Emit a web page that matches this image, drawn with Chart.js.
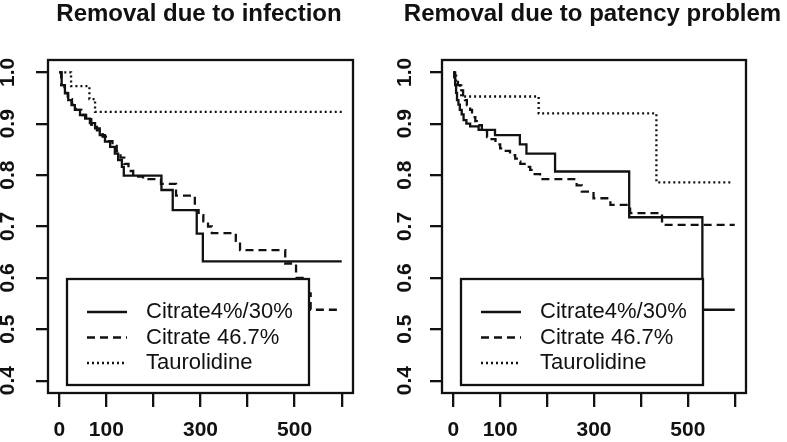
<!DOCTYPE html>
<html>
<head>
<meta charset="utf-8">
<script src="https://cdn.jsdelivr.net/npm/chart.js@4.4.0/dist/chart.umd.min.js"></script>
<style>
  html, body { margin: 0; padding: 0; background: #fff; }
  #wrap { position: relative; width: 787px; height: 442px; overflow: hidden; background: #fff; }
  .panel { position: absolute; top: 0; }
  #left { left: 0; }
  #right { left: 397px; }
</style>
</head>
<body>
<div id="wrap">
  <div class="panel" id="left"><canvas id="infection-chart" width="398" height="442"></canvas></div>
  <div class="panel" id="right"><canvas id="patency-chart" width="390" height="442"></canvas></div>
</div>
<script>
// groups and axis ticks
const groups = ["Citrate4%/30%", "Citrate 46.7%", "Taurolidine"];
const xTicks = [0, 100, 200, 300, 400, 500, 600];
const xTickLabels = ["0", "100", "", "300", "", "500", ""];
const yTicks = [0.4, 0.5, 0.6, 0.7, 0.8, 0.9, 1.0];

// removal due to infection (days, survival)
const infLowTime = [0, 5, 12, 19, 26, 33, 44, 55, 65, 76, 86, 97, 108, 118, 125, 133, 137, 217, 241, 292, 305, 600];
const infLowSurv = [1, 0.975, 0.959, 0.946, 0.936, 0.927, 0.917, 0.910, 0.901, 0.891, 0.878, 0.865, 0.855, 0.842, 0.829, 0.816, 0.799, 0.771, 0.732, 0.686, 0.632, 0.632];
const infHighTime = [0, 4, 11, 18, 27, 35, 47, 57, 68, 80, 92, 103, 113, 122, 130, 138, 147, 157, 178, 216, 248, 288, 296, 306, 316, 324, 375, 384, 480, 503, 520, 534, 600];
const infHighSurv = [1, 0.975, 0.960, 0.948, 0.937, 0.927, 0.917, 0.909, 0.898, 0.887, 0.875, 0.866, 0.857, 0.846, 0.834, 0.822, 0.808, 0.797, 0.792, 0.783, 0.760, 0.732, 0.722, 0.710, 0.700, 0.687, 0.672, 0.654, 0.628, 0.600, 0.570, 0.538, 0.538];
const infTauroTime = [0, 25, 64, 76, 600];
const infTauroSurv = [1, 0.973, 0.948, 0.923, 0.923];

// removal due to patency problem
const patLowTime = [0, 2, 4, 6, 8, 11, 14, 18, 22, 28, 36, 54, 89, 142, 156, 217, 375, 531, 600];
const patLowSurv = [1, 0.99, 0.975, 0.96, 0.946, 0.937, 0.927, 0.918, 0.907, 0.900, 0.895, 0.888, 0.878, 0.860, 0.842, 0.807, 0.718, 0.538, 0.538];
const patHighTime = [0, 4, 10, 14, 21, 25, 29, 36, 40, 47, 50, 61, 72, 79, 90, 100, 108, 121, 132, 139, 143, 157, 164, 171, 185, 263, 274, 299, 335, 377, 445, 600];
const patHighSurv = [1, 0.988, 0.975, 0.965, 0.952, 0.946, 0.936, 0.927, 0.913, 0.905, 0.897, 0.886, 0.874, 0.870, 0.860, 0.852, 0.847, 0.839, 0.832, 0.826, 0.822, 0.816, 0.810, 0.802, 0.792, 0.780, 0.768, 0.755, 0.742, 0.726, 0.703, 0.703];
const patTauroTime = [0, 6, 17, 182, 433, 594];
const patTauroSurv = [1, 0.977, 0.953, 0.920, 0.786, 0.786];

const fontFamily = '"Liberation Sans", Arial, Helvetica, sans-serif';
const ink = "#111";
const dashes = [[], [8, 5], [2, 3]];
const lw = 2.3;

Chart.defaults.font.family = fontFamily;
Chart.defaults.color = ink;

function toPoints(times, surv) {
    return times.map((t, i) => ({ x: t, y: surv[i] }));
}

// title, frame around the plot region and the R-style legend inside it
const boxLegend = {
    id: "boxLegend",
    afterDatasetsDraw(chart, args, opts) {
        const ctx = chart.ctx;
        const a = chart.chartArea;
        ctx.save();
        ctx.fillStyle = ink;
        ctx.font = "bold 24px " + fontFamily;
        ctx.textAlign = "center";
        ctx.textBaseline = "middle";
        ctx.fillText(opts.title, (a.left + a.right) / 2 - 1.5, 14);

        ctx.strokeStyle = ink;
        ctx.lineWidth = lw;
        ctx.strokeRect(a.left, a.top, a.right - a.left, a.bottom - a.top);

        const lx = a.left + 19, ly = a.top + 219, w = 242, h = 106;
        ctx.fillStyle = "#fff";
        ctx.fillRect(lx, ly, w, h);
        ctx.strokeRect(lx, ly, w, h);
        ctx.font = "22px " + fontFamily;
        ctx.textBaseline = "middle";
        ctx.textAlign = "left";
        chart.data.datasets.forEach((ds, i) => {
            const y = ly + 33 + i * 25.5;
            ctx.setLineDash(ds.borderDash || []);
            ctx.beginPath();
            ctx.moveTo(lx + 20, y);
            ctx.lineTo(lx + 60, y);
            ctx.stroke();
            ctx.setLineDash([]);
            ctx.fillStyle = ink;
            ctx.fillText(ds.label, lx + 79, y);
        });
        ctx.restore();
    }
};

function makeChart(id, title, series, yWidth, padRight) {
    return new Chart(document.getElementById(id), {
        type: "line",
        data: {
            datasets: series.map((pts, i) => ({
                label: groups[i],
                data: pts,
                borderColor: ink,
                borderWidth: lw,
                borderDash: dashes[i],
                pointRadius: 0,
                stepped: "before",
                fill: false
            }))
        },
        options: {
            responsive: false,
            animation: false,
            events: [],
            layout: { padding: { left: 0, right: padRight, top: 60, bottom: 0 } },
            plugins: {
                legend: { display: false },
                tooltip: { enabled: false },
                title: { display: false },
                boxLegend: { title: title }
            },
            scales: {
                x: {
                    type: "linear",
                    min: -24,
                    max: 624,
                    afterBuildTicks: s => { s.ticks = xTicks.map(v => ({ value: v })); },
                    afterFit: s => { s.height = 49; },
                    border: { display: false },
                    grid: { drawOnChartArea: false, drawTicks: true, tickLength: 14, color: ink, lineWidth: lw },
                    ticks: {
                        autoSkip: false,
                        maxRotation: 0,
                        padding: 11,
                        color: ink,
                        font: { size: 21, weight: "bold" },
                        callback: (v, i) => xTickLabels[i]
                    }
                },
                y: {
                    type: "linear",
                    min: 0.376,
                    max: 1.024,
                    afterBuildTicks: s => { s.ticks = yTicks.map(v => ({ value: v })); },
                    afterFit: s => { s.width = yWidth; },
                    border: { display: false },
                    grid: { drawOnChartArea: false, drawTicks: true, tickLength: 12, color: ink, lineWidth: lw },
                    ticks: {
                        autoSkip: false,
                        minRotation: 90,
                        maxRotation: 90,
                        crossAlign: "center",
                        padding: yWidth - 12 - 14 - 9,
                        color: ink,
                        font: { size: 21, weight: "bold" },
                        callback: v => v.toFixed(1)
                    }
                }
            }
        },
        plugins: [boxLegend]
    });
}

makeChart("infection-chart", "Removal due to infection", [
    toPoints(infLowTime, infLowSurv),
    toPoints(infHighTime, infHighSurv),
    toPoints(infTauroTime, infTauroSurv)
], 48, 45);

makeChart("patency-chart", "Removal due to patency problem", [
    toPoints(patLowTime, patLowSurv),
    toPoints(patHighTime, patHighSurv),
    toPoints(patTauroTime, patTauroSurv)
], 45, 41);
</script>
</body>
</html>
